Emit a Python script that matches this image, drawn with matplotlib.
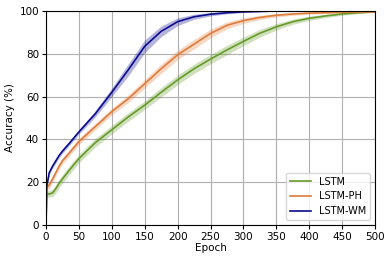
import numpy
import matplotlib
matplotlib.use('Agg')
import matplotlib.pyplot as plt

epochs = [0, 1, 5, 10, 15, 20, 25, 35, 50, 75, 100, 125, 150, 175, 200, 225,
          250, 275, 300, 325, 350, 375, 400, 425, 450, 475, 500]

acc_lstm = [0, 14.5, 14.5, 15, 17, 19.5, 21.5, 25.5, 31, 38.5, 44.5, 50.5, 56,
            62, 67.8, 73, 77.5, 81.8, 85.8, 89.6, 92.6, 95, 96.6, 97.7, 98.6,
            99.2, 99.6]
acc_ph = [0, 17.5, 18.7, 21.5, 24.5, 27.5, 30, 33.5, 39, 46, 53, 59, 66, 73,
          79.5, 84.5, 89.5, 93.3, 95.5, 97, 98, 98.6, 99, 99.2, 99.4, 99.5, 99.6]
acc_wm = [0, 18, 24.5, 27.5, 30, 32.5, 34.5, 38, 43.5, 52, 62, 72.5, 83.5, 90.5,
          95, 97.3, 98.5, 99.2, 99.6, 99.8, 100, 100, 100, 100, 100, 100, 100]

std_lstm = [0, 1.5, 1.5, 1.8, 2, 2, 2, 2, 2, 2, 2, 2, 2, 2.2, 2.2, 2.2,
            2.2, 2.2, 2, 1.8, 1.5, 1.2, 1, 0.8, 0.6, 0.4, 0.3]
std_ph = [0, 1.5, 1.5, 1.5, 1.5, 1.5, 1.5, 1.5, 1.5, 1.5, 1.5, 1.8, 2, 2.2,
          2.2, 2.2, 2, 1.6, 1.3, 1, 0.8, 0.6, 0.5, 0.4, 0.3, 0.3, 0.3]
std_wm = [0, 1, 1, 1, 1, 1, 1, 1, 1, 1.5, 2, 2.8, 3, 2.5, 1.8, 1.2,
          0.8, 0.5, 0.3, 0.2, 0.1, 0, 0, 0, 0, 0, 0]

labels = ['LSTM', 'LSTM-PH', 'LSTM-WM']
colours = ['#669a28', '#e07b39', '#0b0b8e']

fig = plt.figure(figsize=(3.92, 2.62), dpi=100)
ax = fig.add_axes([46 / 392., 37 / 262., 329 / 392., 214 / 262.])

for acc, std, lab, col in zip([acc_lstm, acc_ph, acc_wm],
                              [std_lstm, std_ph, std_wm], labels, colours):
    acc = numpy.array(acc)
    std = numpy.array(std)
    ax.fill_between(epochs, acc - std, numpy.minimum(acc + std, 100),
                    color=col, alpha=0.3, linewidth=0)
    ax.plot(epochs, acc, color=col, linewidth=1.2, label=lab)

ax.set_xlim(0, 500)
ax.set_ylim(0, 100)
ax.set_xticks(range(0, 501, 50))
ax.set_yticks(range(0, 101, 20))
ax.grid(True, color='#b0b0b0', linewidth=0.8)
ax.set_axisbelow(True)
ax.tick_params(labelsize=7.5, length=3, pad=2)
ax.set_xlabel('Epoch', fontsize=7.5, labelpad=1)
ax.set_ylabel('Accuracy (%)', fontsize=7.5, labelpad=3)
ax.legend(loc='lower right', fontsize=7, handlelength=2.2, framealpha=0.8)

fig.savefig('out.png', dpi=100)
